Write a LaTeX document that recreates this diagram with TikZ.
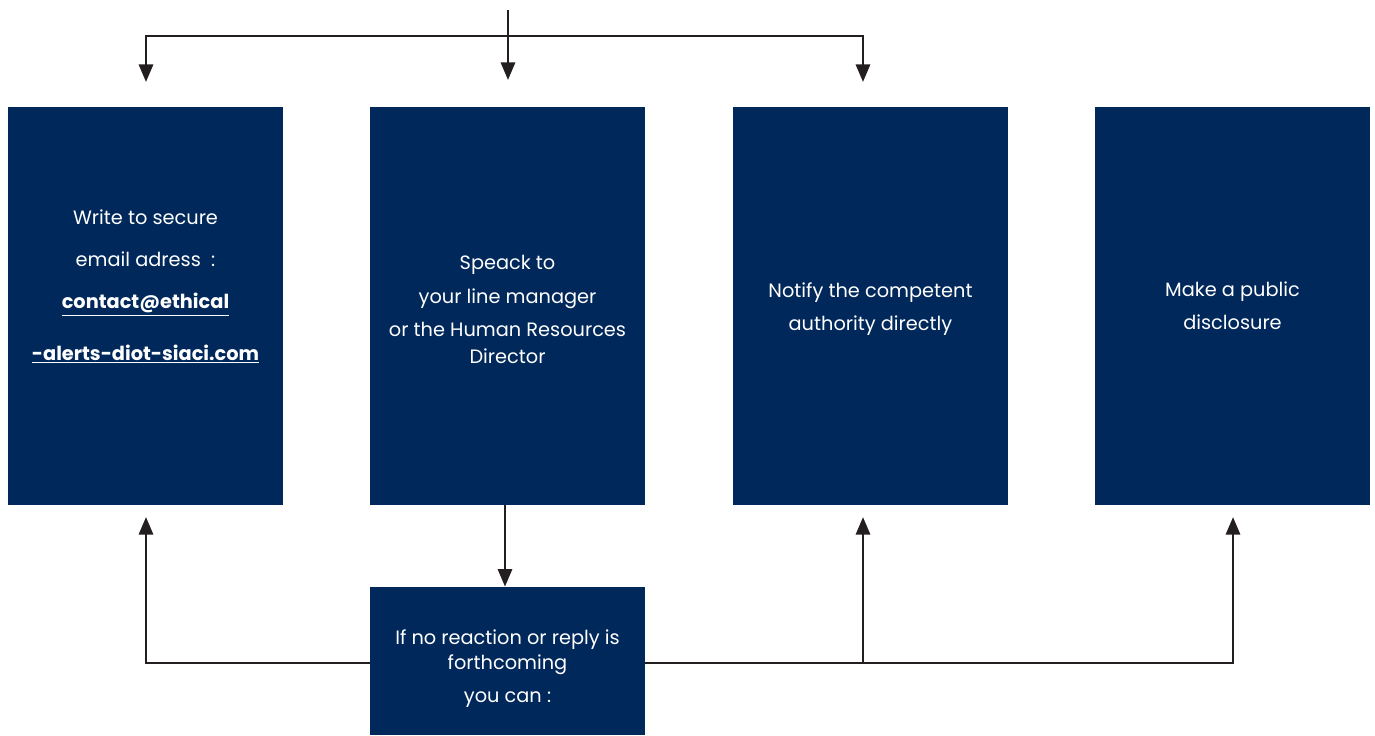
\documentclass[tikz,border=0pt]{standalone}
\usepackage{fontspec}
\setmainfont{Poppins}
\definecolor{navy}{RGB}{0, 40, 90}
\definecolor{linegray}{RGB}{35, 31, 32}
\usetikzlibrary{arrows.meta, positioning}

\begin{document}
\begin{tikzpicture}[
  x=0.02cm, y=-0.02cm,
  box/.style={fill=navy, text=white, minimum width=5.5cm, minimum height=7.96cm, align=center, font=\fontsize{11}{13}\selectfont, inner sep=0pt},
  flow/.style={draw=linegray, line width=1.6pt, -{Triangle[width=8pt, length=10pt]}}
]
  \useasboundingbox (0,0) rectangle (1375,735);

  \node[box] (secure) at (145.5,306) {Write to secure\\[11pt]
    email adress~~:\\[11pt]
    \textbf{\underline{contact@ethical}}\\[15pt]
    \textbf{\underline{-alerts-diot-siaci.com}}\\[11pt]
    \mbox{}};
  \node[box] (speak) at (507.5,306) {\mbox{}\\[-1pt]
    Speack to\\[6pt]
    your line manager\\[6pt]
    or the Human Resources\\[2pt]
    Director};
  \node[box] (notify) at (870.5,306) {\mbox{}\\[-1pt]
    Notify the competent\\[6pt]
    authority directly};
  \node[box] (public) at (1232.5,306) {Make a public\\[6pt]
    disclosure};
  \node[box, minimum height=2.96cm] (ifno) at (507.5,661) {\mbox{}\\[4pt]
    If no reaction or reply is\\[1pt]
    forthcoming\\[6pt]
    you can :};

  % entry point and arrow ends
  \coordinate (entry) at (508,10);
  \coordinate (bus) at (508,36);
  \coordinate (in1) at (146,82);
  \coordinate (in2) at (508,80);
  \coordinate (in3) at (863,82);
  \coordinate (up1) at (146,517);
  \coordinate (up3) at (863,517);
  \coordinate (up4) at (1233,517);

  \draw[flow] (entry) -- (in2);
  \draw[flow] (bus) -| (in1);
  \draw[flow] (bus) -| (in3);

  \draw[flow] (speak.south -| 505,0) -- (ifno.north -| 505,0);

  \draw[flow] (ifno.west |- 0,663) -| (up1);
  \draw[flow] (ifno.east |- 0,663) -| (up4);
  \draw[flow] (up3 |- 0,663) -- (up3);
\end{tikzpicture}
\end{document}
